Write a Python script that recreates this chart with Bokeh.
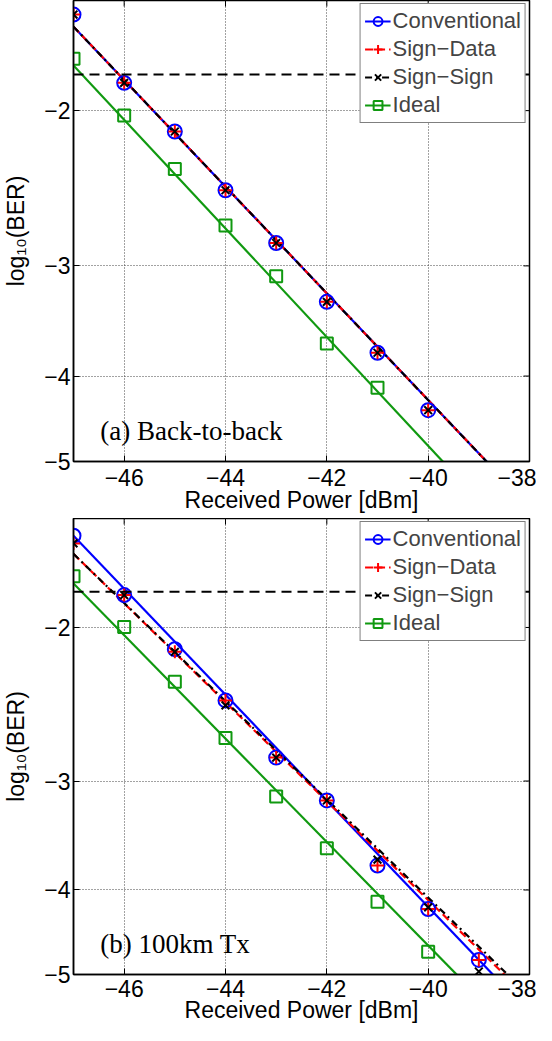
import numpy as np
from bokeh.plotting import figure
from bokeh.models import (Range1d, FixedTicker, Legend, LegendItem,
                          Label, Span, CustomJSTickFormatter)
from bokeh.layouts import column
from bokeh.embed import file_html
from bokeh.resources import INLINE

# ---------------- data (log10(BER) values) ----------------
x_ticks = [-46, -44, -42, -40, -38]
y_ticks_ber = [2, 3, 4, 5]          # tick labels -2 ... -5 (log10 BER)
x_lim = [-47, -38]
y_lim = [-5, -1.5]
fit_x = [-47, -38]
threshold = -1.82

# Panel (a) back-to-back
a_power = [-47, -46, -45, -44, -43, -42, -41, -40]
a_conv = [-1.556, -1.860, -2.112, -2.462, -2.826, -3.295, -3.764, -4.373]
a_sd = [-1.556, -1.860, -2.112, -2.462, -2.826, -3.295, -3.764, -4.373]
a_ss = [-1.556, -1.860, -2.112, -2.462, -2.826, -3.295, -3.764, -4.373]
a_ideal_power = [-47, -46, -45, -44, -43, -42, -41]
a_ideal = [-1.746, -2.025, -2.329, -2.700, -3.082, -3.674, -4.123]
a_fit_conv = [-1.606, -5.627]
a_fit_sd = [-1.606, -5.627]
a_fit_ss = [-1.606, -5.627]
a_fit_ideal = [-1.777, -6.375]

# Panel (b) 100 km transmission
b_power = [-47, -46, -45, -44, -43, -42, -41, -40, -39]
b_conv = [-1.570, -1.836, -2.118, -2.425, -2.820, -3.158, -3.750, -4.206, -4.811]
b_sd = [-1.602, -1.836, -2.133, -2.425, -2.820, -3.158, -3.750, -4.206, -4.811]
b_ss = [-1.602, -1.836, -2.133, -2.457, -2.820, -3.158, -3.692, -4.188, -4.961]
b_ideal_power = [-47, -46, -45, -44, -43, -42, -41, -40]
b_ideal = [-1.747, -1.997, -2.308, -2.677, -3.125, -3.582, -4.127, -4.708]
b_fit_conv = [-1.570, -5.533]
b_fit_sd = [-1.647, -5.334]
b_fit_ss = [-1.647, -5.288]
b_fit_ideal = [-1.781, -6.085]

FONT = "Liberation Sans"
SERIF = "Liberation Serif"
BLUE, RED, BLACK, GREEN = "#0000ff", "#ff0000", "#000000", "#109910"


def tr(v):
    return np.log10(-np.asarray(v, dtype=float))


def make_panel(power, conv, sd, ss, ideal_power, ideal, fits, note,
               height, border_bottom, tick_standoff, label_standoff):
    p = figure(width=536, height=height, output_backend="svg",
               toolbar_location=None,
               x_range=Range1d(x_lim[0], x_lim[1]),
               y_range=Range1d(float(tr([y_lim[0]])[0]), float(tr([y_lim[1]])[0])),
               min_border_left=68, min_border_right=7,
               min_border_top=0, min_border_bottom=border_bottom)
    p.outline_line_color = "black"
    p.outline_line_width = 1.5
    p.background_fill_color = "white"
    p.border_fill_color = "white"

    xfmt = CustomJSTickFormatter(code="return '\u2212' + Math.abs(tick).toString();")
    yfmt = CustomJSTickFormatter(code="return '\u2212' + Math.round(Math.pow(10, tick)).toString();")
    xt = FixedTicker(ticks=x_ticks)
    yt = FixedTicker(ticks=list(np.log10(y_ticks_ber)))

    p.xaxis.ticker = xt
    p.yaxis.ticker = yt
    p.xaxis.formatter = xfmt
    p.yaxis.formatter = yfmt
    for ax in (p.xaxis[0], p.yaxis[0]):
        ax.major_tick_in = 6
        ax.major_tick_out = 0
        ax.minor_tick_line_color = None
        ax.axis_line_width = 1.5
        ax.major_label_text_font = FONT
        ax.major_label_text_font_size = "23px"
        ax.major_label_text_color = "black"
        ax.axis_label_text_font = FONT
        ax.axis_label_text_font_size = "23px"
        ax.axis_label_text_font_style = "normal"
        ax.axis_label_text_color = "black"
    p.xaxis.major_label_standoff = tick_standoff
    p.yaxis.major_label_standoff = 3
    p.xaxis.axis_label = "Received Power [dBm]"
    p.xaxis.axis_label_standoff = label_standoff
    p.yaxis.axis_label = "log\u2081\u2080(BER)"
    p.yaxis.axis_label_standoff = 12

    p.grid.grid_line_color = "#444444"
    p.grid.grid_line_dash = "1 2"
    p.grid.grid_line_width = 1
    p.xgrid.ticker = xt
    p.ygrid.ticker = yt

    fc, fsd, fss, fid = fits
    l1 = p.line(fit_x, tr(fc), line_color=BLUE, line_width=2.2)
    l2 = p.line(fit_x, tr(fsd), line_color=RED, line_width=2.2, line_dash="8 4")
    l3 = p.line(fit_x, tr(fss), line_color=BLACK, line_width=2.2, line_dash="7 4 2 4")
    l4 = p.line(fit_x, tr(fid), line_color=GREEN, line_width=2.2)

    m1 = p.scatter(power, tr(conv), marker="circle", size=14, line_color=BLUE,
                   fill_color=None, line_width=2)
    m2 = p.scatter(power, tr(sd), marker="cross", size=13, line_color=RED,
                   line_width=2)
    m3 = p.scatter(power, tr(ss), marker="x", size=11, line_color=BLACK,
                   line_width=2)
    m4 = p.scatter(ideal_power, tr(ideal), marker="square", size=12,
                   line_color=GREEN, fill_color=None, line_width=2)

    # inward tick marks on the top and right edges of the box
    ytop = float(tr([y_lim[1]])[0])
    p.scatter(x_ticks, [ytop] * len(x_ticks), marker="dash", size=12,
              angle=np.pi / 2, line_color="black", line_width=1)
    p.scatter([x_lim[1]] * len(y_ticks_ber), list(np.log10(y_ticks_ber)),
              marker="dash", size=12, line_color="black", line_width=1)

    p.add_layout(Span(location=float(tr([threshold])[0]), dimension="width",
                      line_color="black", line_width=2, line_dash="10 6"))

    p.add_layout(Label(x=-46.47, y=0.664, text=note, text_font=SERIF,
                       text_font_size="27px", text_baseline="alphabetic",
                       text_color="black"))

    legend = Legend(items=[LegendItem(label="Conventional", renderers=[l1, m1]),
                           LegendItem(label="Sign\u2212Data", renderers=[l2, m2]),
                           LegendItem(label="Sign\u2212Sign", renderers=[l3, m3]),
                           LegendItem(label="Ideal", renderers=[l4, m4])],
                    location="top_right", margin=3, padding=4, spacing=2,
                    glyph_width=26, glyph_height=22, label_height=22,
                    label_standoff=2, label_text_font=FONT,
                    label_text_font_size="22px",
                    border_line_color="black", border_line_width=1,
                    background_fill_color="white", background_fill_alpha=1)
    p.add_layout(legend, "center")
    return p


p1 = make_panel(a_power, a_conv, a_sd, a_ss, a_ideal_power, a_ideal,
                (a_fit_conv, a_fit_sd, a_fit_ss, a_fit_ideal),
                "(a) Back-to-back", 518, 57, 7, -2)
p2 = make_panel(b_power, b_conv, b_sd, b_ss, b_ideal_power, b_ideal,
                (b_fit_conv, b_fit_sd, b_fit_ss, b_fit_ideal),
                "(b) 100km Tx", 507, 51, 5, -3)

layout = column(p1, p2, spacing=0)
open("out.html", "w").write(file_html(layout, INLINE))
